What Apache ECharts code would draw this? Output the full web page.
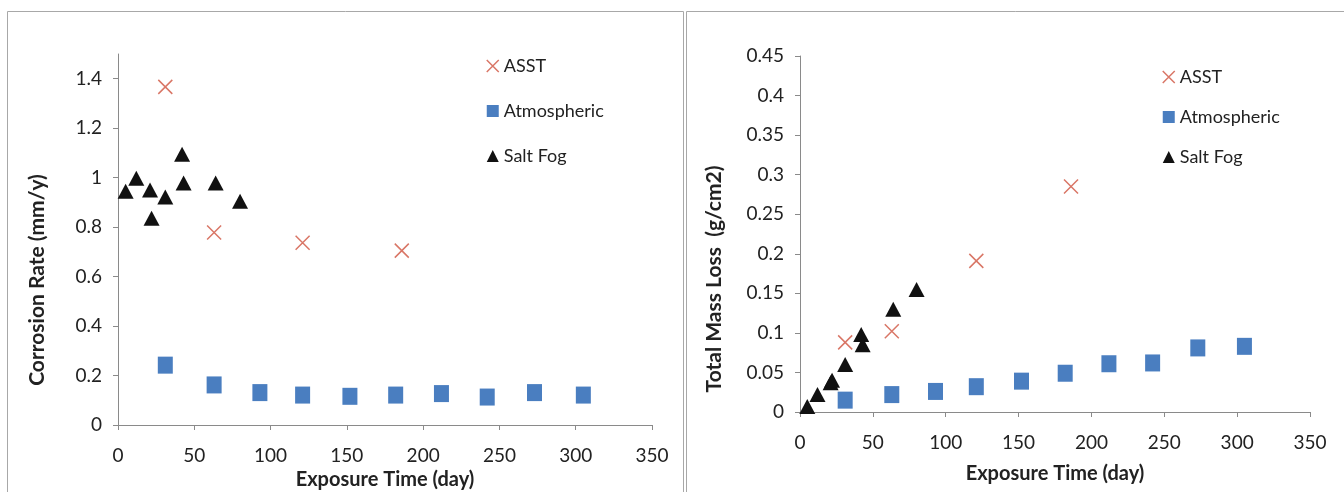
<!DOCTYPE html>
<html>
<head>
<meta charset="utf-8">
<script src="https://cdn.jsdelivr.net/npm/echarts@6/dist/echarts.min.js"></script>
<style>
  html, body { margin: 0; padding: 0; background: #fff; }
  #chart { width: 1344px; height: 492px; }
</style>
</head>
<body>
<div id="chart"></div>
<script>
// 左图：腐蚀速率 (mm/y)；右图：总质量损失 (g/cm2)
// 横轴均为暴露时间 (day)

// ASST 试验
const asstDays = [31, 63, 121, 186];
const asstRate = [1.367, 0.778, 0.737, 0.705];
const asstLoss = [0.088, 0.102, 0.191, 0.285];

// 大气暴露
const atmDays = [31, 63, 93, 121, 152, 182, 212, 242, 273, 305];
const atmRate = [0.242, 0.162, 0.131, 0.121, 0.116, 0.121, 0.127, 0.113, 0.131, 0.121];
const atmLoss = [0.015, 0.022, 0.026, 0.032, 0.039, 0.049, 0.061, 0.062, 0.081, 0.083];

// 盐雾试验
const fogDays = [5, 12, 21, 22, 31, 42, 43, 64, 80];
const fogRate = [0.945, 0.998, 0.950, 0.836, 0.922, 1.095, 0.978, 0.978, 0.905];
const fogLoss = [0.007, 0.022, 0.037, 0.040, 0.060, 0.098, 0.085, 0.130, 0.155];

const xTicks = [0, 50, 100, 150, 200, 250, 300, 350];

const seriesNames = ['ASST', 'Atmospheric', 'Salt Fog'];
const RED = '#cf5440';
const BLUE = '#4a7ec0';
const BLACK = '#111';
const FONT = 'Lato, "Open Sans", sans-serif';
const X_PATH = 'path://M0,0L10,10M0,10L10,0';

function zip(xs, ys) {
  return xs.map(function (x, i) { return [x, ys[i]]; });
}

function xAxisOf(gridIndex, nameGap) {
  return {
    type: 'value',
    gridIndex: gridIndex,
    min: 0, max: 350, interval: 50,
    name: 'Exposure Time (day)',
    nameLocation: 'middle',
    nameGap: nameGap,
    nameTextStyle: { fontFamily: FONT, fontSize: 20, fontWeight: 'bold', color: '#222' },
    axisLine: { lineStyle: { color: '#8a8a8a', width: 1 } },
    axisTick: { show: true, inside: false, length: 5, lineStyle: { color: '#8a8a8a' } },
    axisLabel: {
      fontFamily: FONT, fontSize: 19, color: '#222', margin: 21,
      formatter: function (v) { return xTicks.indexOf(v) >= 0 ? String(v) : ''; }
    },
    splitLine: { show: false }
  };
}

function yAxisOf(gridIndex, max, interval, showMax) {
  return {
    type: 'value',
    gridIndex: gridIndex,
    min: 0, max: max, interval: interval,
    axisLine: { show: true, lineStyle: { color: '#8a8a8a', width: 1 } },
    axisTick: { show: true, inside: false, length: 5, lineStyle: { color: '#8a8a8a' } },
    axisLabel: {
      fontFamily: FONT, fontSize: 19, color: '#222', margin: 16,
      showMaxLabel: showMax,
      formatter: function (v) { return String(parseFloat(v.toFixed(2))); }
    },
    splitLine: { show: false }
  };
}

function legendOf(left, top, gap) {
  return {
    orient: 'vertical',
    left: left, top: top,
    itemGap: gap,
    itemWidth: 12, itemHeight: 12,
    textStyle: { fontFamily: FONT, fontSize: 18, color: '#222' },
    data: [
      { name: seriesNames[0], icon: X_PATH,
        itemStyle: { color: 'transparent', borderColor: RED, borderWidth: 1.5 } },
      { name: seriesNames[1], icon: 'rect', itemStyle: { color: BLUE } },
      { name: seriesNames[2], icon: 'triangle', itemStyle: { color: BLACK } }
    ]
  };
}

function seriesFor(idx, asst, atm, fog) {
  return [
    {
      name: seriesNames[0], type: 'scatter', xAxisIndex: idx, yAxisIndex: idx,
      symbol: X_PATH, symbolSize: 14,
      itemStyle: { color: 'transparent', borderColor: RED, borderWidth: 1.5 },
      data: zip(asstDays, asst)
    },
    {
      name: seriesNames[1], type: 'scatter', xAxisIndex: idx, yAxisIndex: idx,
      symbol: 'rect', symbolSize: [15, 17],
      itemStyle: { color: BLUE, opacity: 1 },
      data: zip(atmDays, atm)
    },
    {
      name: seriesNames[2], type: 'scatter', xAxisIndex: idx, yAxisIndex: idx,
      symbol: 'triangle', symbolSize: [16, 15],
      itemStyle: { color: BLACK, opacity: 1 },
      data: zip(fogDays, fog)
    }
  ];
}

const chart = echarts.init(document.getElementById('chart'), null, { renderer: 'canvas' });

chart.setOption({
  backgroundColor: '#fff',
  animation: false,
  grid: [
    { left: 118, right: 692, top: 54, bottom: 67, outerBoundsMode: 'none' },
    { left: 800, right: 34, top: 56, bottom: 80, outerBoundsMode: 'none' }
  ],
  xAxis: [xAxisOf(0, 45), xAxisOf(1, 52)],
  yAxis: [yAxisOf(0, 1.5, 0.2, false), yAxisOf(1, 0.45, 0.05, true)],
  legend: [legendOf(481, 52, 27), legendOf(1157, 63, 22)],
  graphic: [
    // 两个面板边框
    { type: 'rect', shape: { x: 7.5, y: 11.5, width: 676, height: 500 },
      style: { fill: 'none', stroke: '#a8a8a8', lineWidth: 1 }, silent: true, z: -1 },
    { type: 'rect', shape: { x: 686.5, y: 11.5, width: 700, height: 500 },
      style: { fill: 'none', stroke: '#a8a8a8', lineWidth: 1 }, silent: true, z: -1 },
    // 纵轴标题
    { type: 'text', x: 37, y: 280, rotation: Math.PI / 2,
      style: { text: 'Corrosion Rate (mm/y)', font: 'bold 21px ' + FONT, fill: '#222',
        align: 'center', verticalAlign: 'middle' } },
    { type: 'text', x: 714, y: 279, rotation: Math.PI / 2,
      style: { text: 'Total Mass Loss  (g/cm2)', font: 'bold 21px ' + FONT, fill: '#222',
        align: 'center', verticalAlign: 'middle' } }
  ],
  series: seriesFor(0, asstRate, atmRate, fogRate).concat(seriesFor(1, asstLoss, atmLoss, fogLoss))
});
</script>
</body>
</html>
